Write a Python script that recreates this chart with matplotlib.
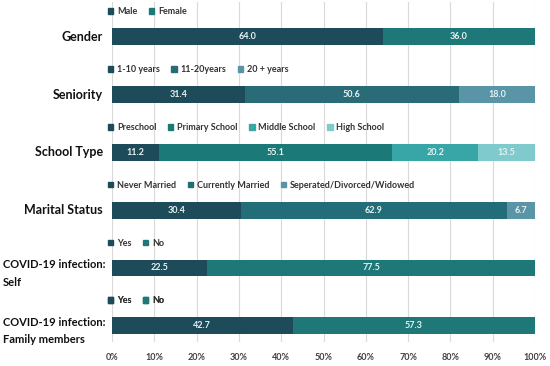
import numpy as np
import matplotlib.pyplot as plt
from matplotlib.patches import Patch

plt.rcParams['font.family'] = ['Lato', 'DejaVu Sans']

# Data
rows = ["Gender", "Seniority", "School Type", "Marital Status",
        "COVID-19 infection:\nSelf", "COVID-19 infection:\nFamily members"]

series_labels = [
    ["Male", "Female"],
    ["1-10 years", "11-20years", "20 + years"],
    ["Preschool", "Primary School", "Middle School", "High School"],
    ["Never Married", "Currently Married", "Seperated/Divorced/Widowed"],
    ["Yes", "No"],
    ["Yes", "No"],
]

values = [
    [64.0, 36.0],
    [31.4, 50.6, 18.0],
    [11.2, 55.1, 20.2, 13.5],
    [30.4, 62.9, 6.7],
    [22.5, 77.5],
    [42.7, 57.3],
]

colors = [
    ["#1d4b5a", "#1f7878"],
    ["#1d4b5a", "#2a6b78", "#5a95a7"],
    ["#1d4b5a", "#1b7a78", "#38a6a6", "#7fcacd"],
    ["#1d4b5a", "#236d78", "#5a95a7"],
    ["#1d4b5a", "#1f7878"],
    ["#1d4b5a", "#1f7878"],
]

fig = plt.figure(figsize=(5.5, 3.66), dpi=100)
ax = fig.add_axes([112/550, 1 - 342/366, 423/550, 340/366])

bar_h = 0.29
for i, vals in enumerate(values):
    left = 0
    handles = []
    for v, c, lab in zip(vals, colors[i], series_labels[i]):
        ax.barh(i, v, left=left, height=bar_h, color=c, zorder=3)
        ax.text(left + v / 2, i, f"{v:.1f}", ha='center', va='center',
                color='#e6f2f2', fontsize=6.5, fontweight='bold', zorder=4)
        left += v
        handles.append(Patch(color=c, label=lab))
    leg = ax.legend(handles=handles, loc='center left',
                    bbox_to_anchor=(-0.01, i - 0.43),
                    bbox_transform=ax.get_yaxis_transform(),
                    ncol=len(handles), frameon=False,
                    prop={'size': 6.5, 'weight': 'bold'},
                    handlelength=0.6, handleheight=0.6, handletextpad=0.4,
                    columnspacing=1.3, borderpad=0, borderaxespad=0)
    for t in leg.get_texts():
        t.set_color('#333333')
    ax.add_artist(leg)

    name = rows[i]
    if "\n" in name:
        ax.text(-0.258, i - 0.15, name, transform=ax.get_yaxis_transform(),
                ha='left', va='top', fontsize=8, fontweight='bold',
                linespacing=1.7, color='#111111')
    else:
        ax.text(-0.021, i, name, transform=ax.get_yaxis_transform(),
                ha='right', va='center', fontsize=9, fontweight='bold',
                color='#111111')

ax.set_xlim(0, 100)
ax.set_ylim(5.28, -0.6)
ax.set_xticks(np.arange(0, 101, 10))
ax.set_xticklabels([f"{x}%" for x in range(0, 101, 10)], fontsize=6.5,
                   fontweight='bold', color='#404040')
ax.set_yticks([])
ax.tick_params(axis='x', length=0, pad=8)
ax.grid(axis='x', color='#d9d9d9', linewidth=0.8, zorder=0)
for s in ax.spines.values():
    s.set_visible(False)

fig.savefig("out.png", dpi=100)
